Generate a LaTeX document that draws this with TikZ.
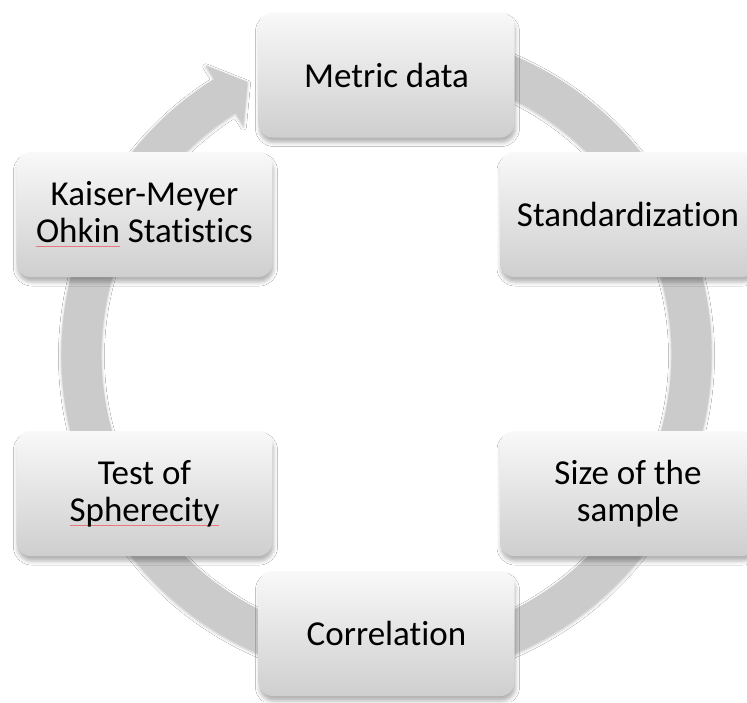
\documentclass[tikz,border=0pt]{standalone}
\usepackage{fontspec}
\setmainfont{Carlito}[Ligatures=NoCommon]
\usetikzlibrary{shadows.blur}
\definecolor{ringgray}{HTML}{CBCBCB}
\definecolor{spellred}{HTML}{E8787E}
\newcommand\redul[1]{\setbox0\hbox{#1}\rlap{\textcolor{spellred}{\rule[-4.5pt]{\wd0}{0.8pt}}}\box0\relax}
\begin{document}
\begin{tikzpicture}[x=1pt,y=1pt,
  stepbox/.style={rectangle, rounded corners=14pt, minimum width=256pt, minimum height=125pt,
    top color=gray!5, bottom color=gray!38, align=center, inner sep=0pt,
    font=\fontsize{35}{37}\selectfont,
    blur shadow={shadow xshift=1pt, shadow yshift=-5pt, shadow blur radius=4pt, shadow opacity=30}}]
\useasboundingbox (-386.5,-347.5) rectangle (360.5,354.5);
\clip (-386.5,-347.5) rectangle (360.5,354.5);
\fill[white] (-386.5,-347.5) rectangle (360.5,354.5);
% cycle arrow ring
\fill[ringgray, blur shadow={shadow xshift=0pt, shadow yshift=-1.5pt, shadow blur radius=3pt, shadow opacity=25}]
  (122:325) arc[start angle=122, end angle=440, radius=325]
  -- (440:285) arc[start angle=440, end angle=122, radius=285]
  -- (122:270) -- (117:306) -- (122:341) -- cycle;
% steps
\node[stepbox] (metric) at (0,279.5) {Metric data};
\node[stepbox] (stand)  at (241.5,140) {Standardization};
\node[stepbox] (size)   at (241.5,-139) {Size of the\\sample};
\node[stepbox] (corr)   at (0,-279) {Correlation};
\node[stepbox] (test)   at (-242,-139) {Test of\\\redul{Spherecity}};
\node[stepbox] (kmo)    at (-242,140) {Kaiser-Meyer\\\redul{Ohkin} Statistics};
\end{tikzpicture}
\end{document}
